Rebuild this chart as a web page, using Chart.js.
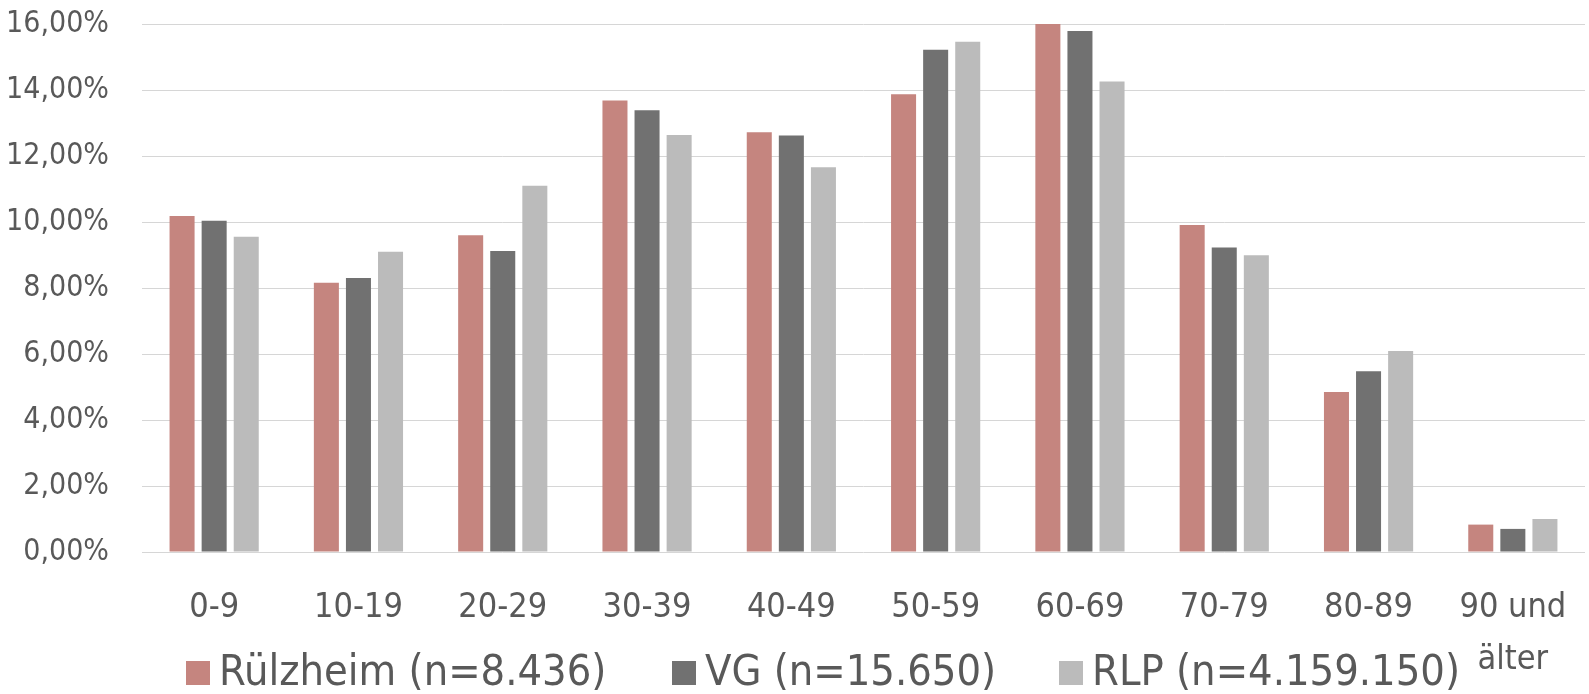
<!DOCTYPE html>
<html>
<head>
<meta charset="utf-8">
<script src="https://cdn.jsdelivr.net/npm/chart.js@4.4.1/dist/chart.umd.min.js"></script>
<style>
  html, body { margin: 0; padding: 0; background: #fff; }
  #wrap { width: 1589px; height: 694px; }
</style>
</head>
<body>
<div id="wrap"><canvas id="c" width="1589" height="694"></canvas></div>
<script>
// Altersgruppen und Anteile je Gebiet (in Prozent)
const ageGroups = ['0-9', '10-19', '20-29', '30-39', '40-49', '50-59', '60-69', '70-79', '80-89', ['90 und', 'älter']];
const ruelzheim = [10.18, 8.16, 9.60, 13.68, 12.72, 13.87, 16.00, 9.91, 4.85, 0.83];
const vg        = [10.04, 8.30, 9.12, 13.39, 12.62, 15.22, 15.79, 9.23, 5.48, 0.70];
const rlp       = [9.55, 9.10, 11.10, 12.64, 11.66, 15.46, 14.26, 8.99, 6.09, 1.00];
const seriesNames = ['Rülzheim (n=8.436)', 'VG (n=15.650)', 'RLP (n=4.159.150)'];
const yTicks = [0, 2, 4, 6, 8, 10, 12, 14, 16];

const FONT = "'DejaVu Sans Condensed', 'Liberation Sans Narrow', Roboto, sans-serif";
const TEXT = '#595959';

const mkSet = (label, data, color) => ({
  label, data,
  backgroundColor: color,
  borderWidth: 0,
  categoryPercentage: 0.667,
  barPercentage: 0.78
});

// Legende als eine Zeile unter der Achse; der zweizeilige Achsentext
// "90 und älter" ragt rechts daneben in dieselbe Zeile.
const rowLegend = {
  id: 'rowLegend',
  afterDraw(chart, args, opts) {
    const ctx = chart.ctx;
    ctx.save();
    ctx.font = `${opts.fontSize}px ${FONT}`;
    ctx.textBaseline = 'alphabetic';
    ctx.textAlign = 'left';
    chart.data.datasets.forEach((ds, i) => {
      const x = opts.itemX[i];
      ctx.fillStyle = ds.backgroundColor;
      ctx.fillRect(x, opts.baseline - opts.box, opts.box, opts.box);
      ctx.fillStyle = TEXT;
      ctx.fillText(ds.label, x + opts.box + opts.gap, opts.baseline);
    });
    ctx.restore();
  }
};

new Chart(document.getElementById('c'), {
  type: 'bar',
  data: {
    labels: ageGroups,
    datasets: [
      mkSet(seriesNames[0], ruelzheim, '#c5857f'),
      mkSet(seriesNames[1], vg, '#717171'),
      mkSet(seriesNames[2], rlp, '#bbbbbb')
    ]
  },
  plugins: [rowLegend],
  options: {
    responsive: false,
    animation: false,
    layout: { padding: { top: 24, right: 4, left: 0, bottom: 0 } },
    plugins: {
      tooltip: { enabled: false },
      legend: { display: false },
      rowLegend: { itemX: [186, 672, 1059], baseline: 685, box: 24, gap: 9, fontSize: 43 }
    },
    scales: {
      x: {
        grid: {
          display: true,
          drawOnChartArea: false,
          drawTicks: true,
          tickLength: 24,
          tickColor: 'rgba(0,0,0,0)'
        },
        border: { display: false },
        ticks: {
          color: TEXT,
          font: { family: FONT, size: 34, lineHeight: 1.53 },
          padding: 6,
          maxRotation: 0,
          autoSkip: false
        },
        afterFit(scale) { scale.height = 142; }
      },
      y: {
        min: 0,
        max: 16,
        afterBuildTicks(scale) { scale.ticks = yTicks.map(v => ({ value: v })); },
        afterFit(scale) { scale.width = 142; },
        grid: {
          color: '#d6d6d6',
          lineWidth: 1,
          drawTicks: true,
          tickLength: 27,
          tickColor: 'rgba(0,0,0,0)'
        },
        border: { display: false },
        ticks: {
          color: TEXT,
          font: { family: FONT, size: 30 },
          padding: 6,
          callback: v => v.toFixed(2).replace('.', ',') + '%'
        }
      }
    }
  }
});
</script>
</body>
</html>
